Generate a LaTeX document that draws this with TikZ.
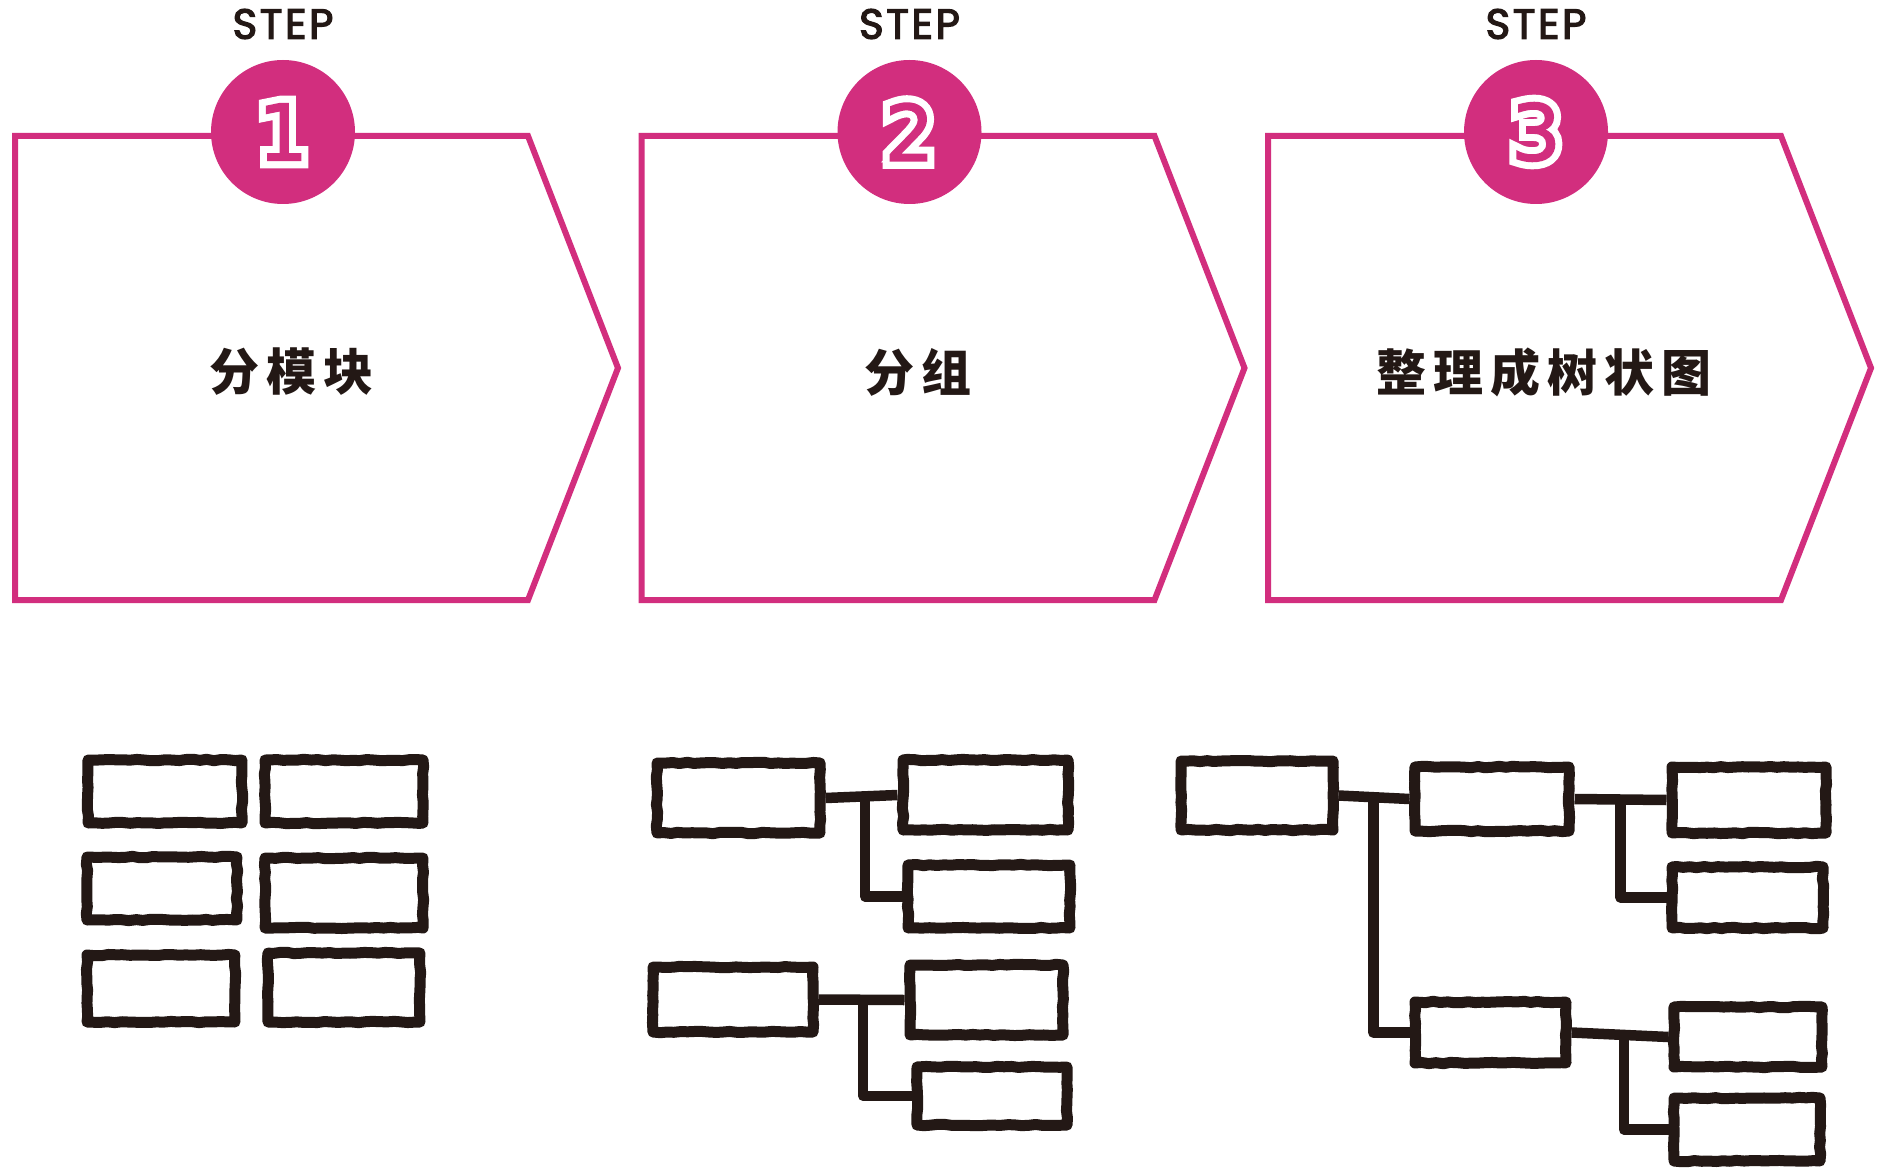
\documentclass[tikz,border=0pt]{standalone}
\usepackage{fontspec}
\usetikzlibrary{decorations.pathmorphing,calc}
\newfontfamily\cjk{Noto Sans CJK SC}[LetterSpace=14]
\newfontfamily\stepfont{Poppins}[LetterSpace=6,FakeBold=3]
\newfontfamily\numfont{DejaVu Sans}[FakeBold=2]
\newfontfamily\numhalo{DejaVu Sans}[FakeBold=20]
\definecolor{stepPink}{RGB}{210,46,126}
\definecolor{ink}{RGB}{35,24,21}
\pgfmathsetseed{7}
\tikzset{
    stage/.style={draw=stepPink,line width=6pt,line join=miter},
    badge/.style={circle,fill=stepPink,minimum size=144pt,inner sep=0pt,
        font=\fontsize{78}{78}\selectfont},
    steplbl/.style={font=\stepfont\fontsize{42}{44}\selectfont,text=ink},
    stagetxt/.style={font=\cjk\bfseries\fontsize{50}{52}\selectfont,text=ink},
    blk/.style 2 args={draw=ink,line width=11pt,line join=round,inner sep=0pt,
        minimum width=#1pt,minimum height=#2pt,
        decorate,decoration={random steps,segment length=7pt,amplitude=0.7pt}},
    wire/.style={draw=ink,line width=10.5pt,line join=round}
}
\newcommand\halonum[1]{\rlap{\numhalo\color{white}#1}{\numfont\color{stepPink}#1}}
\begin{document}
\begin{tikzpicture}[x=1pt,y=-1pt]
    \useasboundingbox (0,0) rectangle (1882,1174);
    \fill[white] (0,0) rectangle (1882,1174);

    \foreach \i/\n/\txt in {0/1/分模块,1/2/分组,2/3/整理成树状图}{
        \begin{scope}[xshift=626.5*\i]
            \draw[stage] (15,136) -- ++(513,0) -- ++(90,232) -- ++(-90,232) -- ++(-513,0) -- cycle;
            \node[badge] (n\n) at (283,132) {\halonum{\n}};
            \node[steplbl] (s\n) at (283,24) {STEP};
            \node[stagetxt] (t\n) at (291,372) {\txt};
        \end{scope}
    }

    \node[blk={154}{63}] (a1) at (165,791.5) {};
    \node[blk={158}{63}] (b1) at (344,791.5) {};
    \node[blk={150}{63}] (a2) at (162,888.5) {};
    \node[blk={158}{70}] (b2) at (344,893) {};
    \node[blk={148}{67}] (a3) at (161,988.5) {};
    \node[blk={152}{69}] (b3) at (344,987.5) {};

    \node[blk={163}{70}] (p1) at (738.5,798) {};
    \node[blk={165}{70}] (c1) at (985.5,795) {};
    \node[blk={162}{63}] (c2) at (989,896.5) {};
    \node[blk={160}{65}] (p2) at (733,999.5) {};
    \node[blk={153}{70}] (c3) at (986.5,1000) {};
    \node[blk={150}{58}] (c4) at (992,1096) {};
    \draw[wire] (p1.east) -- (c1.west) coordinate[pos=0.55] (j1);
    \draw[wire] (j1) |- (c2.west);
    \draw[wire] (p2.east) -- (c3.west) coordinate[pos=0.52] (j2);
    \draw[wire] (j2) |- (c4.west);

    \node[blk={152}{69}] (r) at (1257,795.5) {};
    \node[blk={154}{64}] (m1) at (1492,799) {};
    \node[blk={154}{66}] (l1) at (1749,800) {};
    \node[blk={151}{61}] (l2) at (1747.5,897.5) {};
    \node[blk={151}{61}] (m2) at (1490.5,1032.5) {};
    \node[blk={148}{60}] (l3) at (1748,1037) {};
    \node[blk={146}{63}] (l4) at (1747,1129.5) {};
    \draw[wire] (r.east) -- (m1.west) coordinate[pos=0.49] (j3);
    \draw[wire] (j3) |- (m2.west);
    \draw[wire] (m1.east) -- (l1.west) coordinate[pos=0.5] (j4);
    \draw[wire] (j4) |- (l2.west);
    \draw[wire] (m2.east) -- (l3.west) coordinate[pos=0.54] (j5);
    \draw[wire] (j5) |- (l4.west);
\end{tikzpicture}
\end{document}
